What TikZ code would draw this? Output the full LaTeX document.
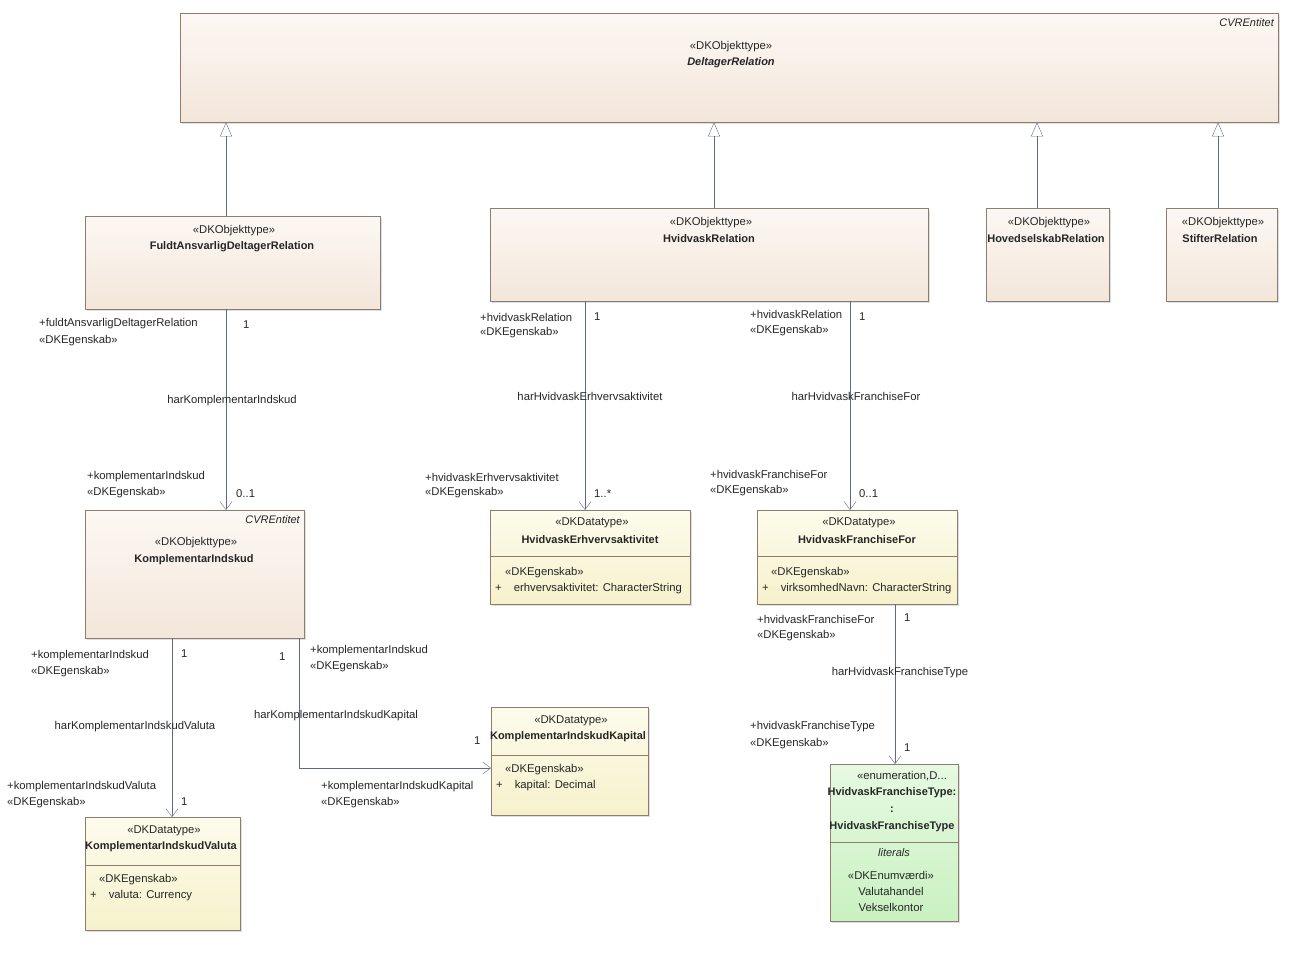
\documentclass[tikz,border=0pt]{standalone}
\usepackage{fontspec}
\setmainfont{Liberation Sans}
\usepackage{tikz}
\usetikzlibrary{positioning,arrows.meta,shadows}
\definecolor{objtop}{HTML}{FDF8F4}
\definecolor{objbot}{HTML}{F3E6DA}
\definecolor{objline}{HTML}{8E7C6E}
\definecolor{dattop}{HTML}{FDFCEC}
\definecolor{datbot}{HTML}{F6F1CC}
\definecolor{enutop}{HTML}{E6FAE2}
\definecolor{enubot}{HTML}{C9F1C1}
\definecolor{wire}{HTML}{5E6B86}
\tikzset{
	box/.style={draw=objline, anchor=north west, inner sep=0pt,
		drop shadow={opacity=.25, shadow xshift=2pt, shadow yshift=-2pt}},
	obj/.style={box, top color=objtop, bottom color=objbot},
	dat/.style={box, top color=dattop, bottom color=datbot},
	enu/.style={box, top color=enutop, bottom color=enubot},
	txt/.style={font=\fontsize{11.3}{13}\selectfont, inner sep=0pt, text=black!85},
	bold/.style={txt, font=\fontsize{11}{13}\selectfont\bfseries},
	ital/.style={txt, font=\fontsize{11}{13}\selectfont\itshape},
	lbl/.style={txt, anchor=west},
	gen/.style={draw=wire, -{Triangle[open, length=14pt, width=12pt]}},
	assoc/.style={draw=wire, -{Straight Barb[length=8pt, width=12pt]}}
}
\begin{document}
\begin{tikzpicture}[x=1pt, y=-1pt]
	\useasboundingbox (0,0) rectangle (1291,958);

	% classes
	\node[obj, minimum width=1098pt, minimum height=109pt] (del) at (180,13) {};
	\node[obj, minimum width=295pt, minimum height=93pt] (fuld) at (85,216) {};
	\node[obj, minimum width=438pt, minimum height=93pt] (hvid) at (490,208) {};
	\node[obj, minimum width=123pt, minimum height=93pt] (hoved) at (986,208) {};
	\node[obj, minimum width=111pt, minimum height=93pt] (stift) at (1166,208) {};
	\node[obj, minimum width=219pt, minimum height=128pt] (komp) at (85,510) {};
	\node[dat, minimum width=200pt, minimum height=94pt] (erhv) at (490,510) {};
	\node[dat, minimum width=200pt, minimum height=94pt] (fran) at (757,510) {};
	\node[dat, minimum width=157pt, minimum height=108pt] (kap) at (491,707) {};
	\node[dat, minimum width=155pt, minimum height=113pt] (val) at (85,817) {};
	\node[enu, minimum width=128pt, minimum height=157pt] (ftype) at (830,764) {};

	% compartments
	\draw[objline] (erhv.west|-0,556) -- (erhv.east|-0,556);
	\draw[objline] (fran.west|-0,556) -- (fran.east|-0,556);
	\draw[objline] (kap.west|-0,755) -- (kap.east|-0,755);
	\draw[objline] (val.west|-0,865) -- (val.east|-0,865);
	\draw[objline] (ftype.west|-0,842) -- (ftype.east|-0,842);

	% texts
	\node[ital, anchor=east] at (1274,23) {CVREntitet};
	\node[txt] at (731,47) {«DKObjekttype»};
	\node[ital, font=\fontsize{11}{13}\selectfont\bfseries\itshape] at (731,63) {DeltagerRelation};
	\node[txt] at (234,231) {«DKObjekttype»};
	\node[bold] at (232,247) {FuldtAnsvarligDeltagerRelation};
	\node[txt] at (711,223) {«DKObjekttype»};
	\node[bold] at (709,239) {HvidvaskRelation};
	\node[txt] at (1049,223) {«DKObjekttype»};
	\node[bold] at (1046,239) {HovedselskabRelation};
	\node[txt] at (1223,223) {«DKObjekttype»};
	\node[bold] at (1220,239) {StifterRelation};
	\node[ital, anchor=east] at (300,520) {CVREntitet};
	\node[txt] at (196,543) {«DKObjekttype»};
	\node[bold] at (194,560) {KomplementarIndskud};
	\node[txt] at (592,523) {«DKDatatype»};
	\node[bold] at (590,540) {HvidvaskErhvervsaktivitet};
	\node[lbl] at (505,573) {«DKEgenskab»};
	\node[lbl] at (495,589) {+\hspace{12pt}erhvervsaktivitet: CharacterString};
	\node[txt] at (859,523) {«DKDatatype»};
	\node[bold] at (857,540) {HvidvaskFranchiseFor};
	\node[lbl] at (771,573) {«DKEgenskab»};
	\node[lbl] at (762,589) {+\hspace{12pt}virksomhedNavn: CharacterString};
	\node[txt] at (571,721) {«DKDatatype»};
	\node[bold] at (568,737) {KomplementarIndskudKapital};
	\node[lbl] at (505,770) {«DKEgenskab»};
	\node[lbl] at (496,786) {+\hspace{12pt}kapital: Decimal};
	\node[txt] at (164,831) {«DKDatatype»};
	\node[bold] at (161,847) {KomplementarIndskudValuta};
	\node[lbl] at (99,880) {«DKEgenskab»};
	\node[lbl] at (90,896) {+\hspace{12pt}valuta: Currency};
	\node[txt] at (902,776) {«enumeration,D...};
	\node[bold] at (892,793) {HvidvaskFranchiseType:};
	\node[bold] at (892,810) {:};
	\node[bold] at (892,827) {HvidvaskFranchiseType};
	\node[ital] at (894,853) {literals};
	\node[txt] at (891,875) {«DKEnumværdi»};
	\node[txt] at (891,891) {Valutahandel};
	\node[txt] at (891,907) {Vekselkontor};

	% generalizations
	\draw[gen] (fuld.north-|226,0) -- (del.south-|226,0);
	\draw[gen] (hvid.north-|714,0) -- (del.south-|714,0);
	\draw[gen] (hoved.north-|1037,0) -- (del.south-|1037,0);
	\draw[gen] (stift.north-|1218,0) -- (del.south-|1218,0);

	% associations
	\draw[assoc] (fuld.south-|226,0) -- (komp.north-|226,0);
	\draw[assoc] (hvid.south-|585,0) -- (erhv.north-|585,0);
	\draw[assoc] (hvid.south-|850,0) -- (fran.north-|850,0);
	\draw[assoc] (komp.south-|172,0) -- (val.north-|172,0);
	\draw[assoc] (komp.south-|299,0) |- (kap.west|-0,768);
	\draw[assoc] (fran.south-|895,0) -- (ftype.north-|895,0);

	% role labels
	\node[lbl] at (39,324) {+fuldtAnsvarligDeltagerRelation};
	\node[lbl] at (39,341) {«DKEgenskab»};
	\node[lbl] at (243,325) {1};
	\node[txt] at (232,401) {harKomplementarIndskud};
	\node[lbl] at (87,477) {+komplementarIndskud};
	\node[lbl] at (87,493) {«DKEgenskab»};
	\node[lbl] at (236,494) {0..1};
	\node[lbl] at (480,317) {+hvidvaskRelation};
	\node[lbl] at (480,333) {«DKEgenskab»};
	\node[lbl] at (594,317) {1};
	\node[txt] at (590,396) {harHvidvaskErhvervsaktivitet};
	\node[lbl] at (425,477) {+hvidvaskErhvervsaktivitet};
	\node[lbl] at (425,493) {«DKEgenskab»};
	\node[lbl] at (594,494) {1..*};
	\node[lbl] at (750,314) {+hvidvaskRelation};
	\node[lbl] at (750,331) {«DKEgenskab»};
	\node[lbl] at (859,317) {1};
	\node[txt] at (856,396) {harHvidvaskFranchiseFor};
	\node[lbl] at (710,474) {+hvidvaskFranchiseFor};
	\node[lbl] at (710,491) {«DKEgenskab»};
	\node[lbl] at (859,494) {0..1};
	\node[lbl] at (31,656) {+komplementarIndskud};
	\node[lbl] at (31,672) {«DKEgenskab»};
	\node[lbl] at (181,654) {1};
	\node[lbl] at (279,657) {1};
	\node[lbl] at (310,651) {+komplementarIndskud};
	\node[lbl] at (310,667) {«DKEgenskab»};
	\node[txt] at (135,727) {harKomplementarIndskudValuta};
	\node[txt] at (336,716) {harKomplementarIndskudKapital};
	\node[lbl] at (7,787) {+komplementarIndskudValuta};
	\node[lbl] at (7,803) {«DKEgenskab»};
	\node[lbl] at (181,802) {1};
	\node[lbl] at (474,741) {1};
	\node[lbl] at (321,787) {+komplementarIndskudKapital};
	\node[lbl] at (321,803) {«DKEgenskab»};
	\node[lbl] at (757,619) {+hvidvaskFranchiseFor};
	\node[lbl] at (757,636) {«DKEgenskab»};
	\node[lbl] at (904,618) {1};
	\node[txt] at (900,673) {harHvidvaskFranchiseType};
	\node[lbl] at (750,727) {+hvidvaskFranchiseType};
	\node[lbl] at (750,744) {«DKEgenskab»};
	\node[lbl] at (904,748) {1};
\end{tikzpicture}
\end{document}
